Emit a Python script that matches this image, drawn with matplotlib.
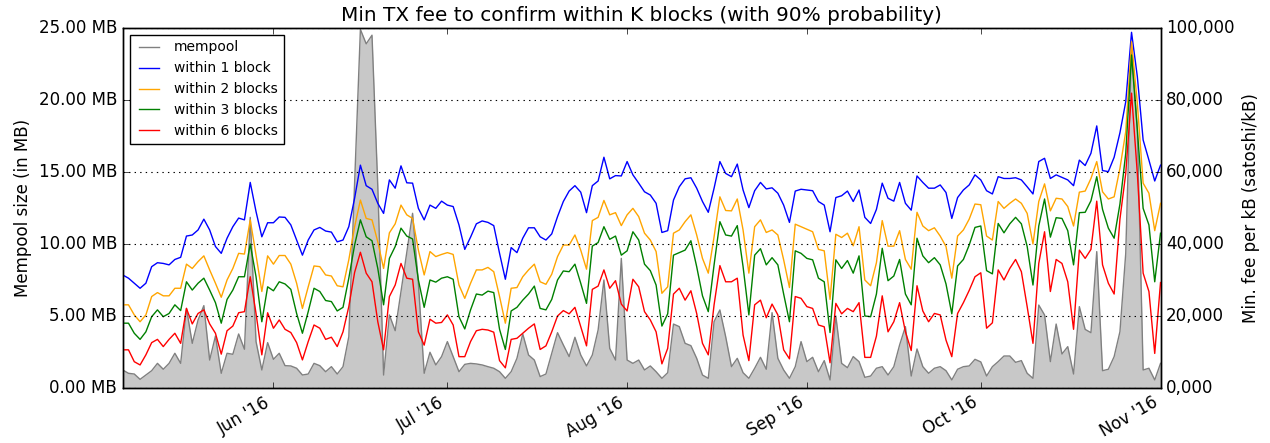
import matplotlib
matplotlib.use('Agg')
import matplotlib.pyplot as plt
import matplotlib.dates as mdates
from matplotlib.ticker import FuncFormatter, MultipleLocator
import pandas as pd

plt.style.use('classic')

start_date = '2016-05-06'
n_days = 180

# mempool size in MB
mempool_mb = [
    1.25, 1.02, 0.97, 0.60, 0.90, 1.20, 1.71, 1.30, 1.71, 2.41,
    1.71, 5.53, 3.10, 4.72, 5.72, 1.94, 3.61, 1.02, 2.41, 2.34,
    3.75, 2.69, 11.85, 3.22, 1.25, 3.15, 1.99, 2.41, 1.55, 1.53,
    1.37, 0.90, 0.97, 1.71, 1.55, 1.13, 1.48, 0.97, 1.48, 3.56,
    14.2, 24.9, 23.9, 24.5, 14.0, 0.90, 5.07, 3.98, 6.69, 9.42,
    12.13, 7.27, 1.02, 2.48, 1.60, 2.18, 3.22, 2.18, 1.13, 1.64,
    1.71, 1.67, 1.60, 1.48, 1.37, 1.13, 0.67, 1.13, 2.06, 3.75,
    2.29, 1.94, 0.79, 0.97, 2.41, 3.84, 2.99, 2.18, 3.52, 2.29,
    1.53, 2.29, 4.03, 7.50, 2.75, 1.94, 9.00, 1.94, 1.71, 1.94,
    1.25, 1.53, 1.13, 0.67, 1.06, 4.44, 4.26, 3.10, 2.94, 2.06,
    0.90, 0.67, 4.61, 5.42, 3.56, 1.48, 2.06, 1.06, 0.67, 1.37,
    2.13, 1.30, 5.23, 2.06, 1.25, 0.67, 1.48, 3.22, 1.83, 2.13,
    1.13, 1.90, 0.56, 5.00, 1.71, 1.41, 2.18, 1.83, 0.74, 0.83,
    1.37, 1.48, 0.90, 1.48, 2.99, 4.26, 0.83, 2.71, 1.48, 1.02,
    1.37, 1.48, 1.20, 0.56, 1.30, 1.48, 1.53, 1.99, 1.81, 0.83,
    1.48, 1.83, 2.22, 2.22, 1.78, 1.90, 1.02, 0.67, 5.76, 5.07,
    1.83, 4.44, 2.36, 2.87, 0.97, 5.65, 4.07, 3.84, 9.47, 1.20,
    1.30, 2.18, 3.91, 9.35, 23.7, 18.0, 1.25, 1.37, 0.56, 1.71,
]

# min fee (thousand satoshi per kB)
fee_1_block_k = [
    31.4, 30.5, 29.1, 27.7, 29.1, 33.7, 34.8, 34.6, 34.2, 35.7,
    36.3, 42.2, 42.5, 43.9, 46.9, 43.9, 39.3, 37.4, 41.6, 44.8,
    47.2, 46.7, 57.1, 49.0, 42.0, 45.9, 45.9, 47.5, 47.4, 45.3,
    41.1, 36.9, 41.1, 43.9, 44.6, 43.6, 43.3, 40.6, 41.1, 44.8,
    52.7, 61.9, 56.2, 55.2, 51.3, 48.5, 57.8, 55.5, 61.7, 57.0,
    56.9, 49.9, 46.7, 50.8, 49.9, 51.9, 50.8, 50.4, 45.3, 38.5,
    41.9, 45.6, 46.4, 46.0, 45.1, 37.4, 30.2, 39.0, 37.6, 41.6,
    44.5, 44.5, 42.0, 41.1, 42.8, 47.6, 51.8, 54.7, 56.2, 54.4,
    48.7, 56.2, 57.5, 64.1, 58.1, 59.0, 58.9, 62.9, 59.2, 56.9,
    54.5, 53.6, 51.3, 43.2, 43.7, 52.2, 55.9, 58.1, 58.4, 55.5,
    51.8, 48.8, 55.5, 62.9, 59.6, 58.7, 62.2, 55.0, 50.1, 54.8,
    57.1, 55.3, 55.6, 54.1, 50.8, 46.0, 54.7, 55.2, 55.0, 54.8,
    51.8, 50.8, 43.4, 52.9, 53.4, 54.7, 51.8, 55.0, 47.4, 45.7,
    49.6, 56.9, 52.7, 51.9, 57.1, 51.3, 49.4, 58.9, 57.1, 55.5,
    55.5, 56.4, 54.3, 47.1, 52.9, 55.0, 56.4, 59.2, 57.8, 54.8,
    53.9, 58.7, 58.2, 58.2, 58.4, 57.8, 55.9, 53.9, 62.9, 63.8,
    58.2, 59.2, 58.5, 57.8, 56.2, 63.3, 61.8, 65.2, 72.8, 60.4,
    60.1, 64.1, 70.9, 79.5, 98.8, 86.5, 68.9, 63.3, 57.5, 61.9,
]

fee_2_blocks_k = [
    23.1, 23.1, 20.3, 18.4, 20.3, 25.4, 26.5, 25.6, 25.6, 27.7,
    27.7, 34.4, 33.2, 35.1, 36.7, 32.8, 29.1, 25.2, 30.0, 33.2,
    37.4, 37.2, 46.7, 36.9, 26.8, 36.7, 34.4, 36.8, 36.8, 34.4,
    29.1, 22.1, 28.1, 33.9, 33.7, 31.4, 31.1, 28.4, 28.1, 35.6,
    44.8, 52.2, 47.1, 46.7, 40.6, 33.2, 43.1, 45.6, 50.8, 48.1,
    47.1, 38.3, 31.4, 37.9, 36.5, 37.1, 37.6, 37.1, 28.6, 24.9,
    29.1, 32.8, 32.8, 33.5, 32.3, 25.4, 18.0, 27.7, 27.9, 30.9,
    32.8, 34.4, 29.5, 28.8, 31.6, 36.5, 39.7, 39.7, 42.5, 38.3,
    33.0, 46.5, 47.4, 52.1, 48.1, 48.7, 45.1, 48.1, 49.9, 47.6,
    43.0, 41.1, 37.9, 26.3, 28.1, 43.0, 43.9, 46.2, 48.1, 42.5,
    36.0, 31.9, 42.0, 53.1, 49.3, 49.2, 52.5, 43.9, 31.9, 44.8,
    46.7, 43.2, 43.9, 42.5, 35.6, 27.9, 45.5, 44.8, 44.1, 43.4,
    38.5, 38.1, 24.6, 42.7, 41.8, 43.0, 39.5, 44.8, 30.0, 28.4,
    34.8, 46.5, 39.4, 39.4, 43.7, 35.7, 33.0, 48.8, 45.0, 43.7,
    44.5, 42.2, 39.3, 30.5, 42.2, 43.9, 46.9, 51.1, 50.9, 42.2,
    41.1, 51.8, 49.9, 51.3, 52.5, 51.3, 48.5, 40.0, 51.8, 56.7,
    49.2, 52.7, 52.5, 50.4, 45.0, 54.4, 54.7, 58.2, 62.9, 54.5,
    52.5, 53.1, 61.0, 71.2, 96.2, 79.1, 56.9, 54.1, 43.7, 51.3,
]

fee_3_blocks_k = [
    18.0, 18.0, 15.2, 13.5, 15.6, 19.8, 21.7, 19.8, 20.7, 23.1,
    21.5, 29.5, 27.2, 29.1, 30.5, 27.2, 23.7, 18.0, 24.6, 27.2,
    30.9, 30.9, 40.0, 30.9, 18.4, 28.1, 27.0, 29.5, 28.9, 27.4,
    20.7, 15.2, 21.2, 27.7, 26.8, 24.3, 24.0, 21.4, 22.4, 30.5,
    39.7, 46.7, 42.0, 40.9, 33.2, 23.1, 36.0, 39.3, 44.4, 42.2,
    41.4, 30.0, 22.4, 30.0, 29.4, 30.5, 30.9, 30.2, 19.8, 16.4,
    21.7, 26.1, 25.8, 26.9, 26.5, 16.3, 10.7, 21.4, 22.4, 24.4,
    26.1, 28.3, 22.1, 21.7, 24.6, 30.0, 32.5, 32.3, 34.4, 29.1,
    23.5, 39.4, 40.4, 44.8, 41.3, 42.2, 36.9, 38.1, 43.4, 41.1,
    34.4, 32.6, 28.6, 17.2, 20.6, 36.9, 37.6, 38.3, 40.9, 33.7,
    25.6, 21.2, 34.2, 46.2, 42.5, 42.2, 45.1, 33.7, 20.3, 36.9,
    38.7, 34.2, 36.2, 34.2, 26.1, 18.4, 38.1, 37.4, 36.0, 35.6,
    30.5, 29.5, 15.4, 35.6, 33.2, 35.4, 31.9, 36.7, 20.0, 19.8,
    26.1, 38.8, 29.8, 31.1, 35.7, 26.1, 23.1, 41.6, 36.7, 34.8,
    36.2, 34.2, 28.9, 20.6, 33.9, 35.7, 39.7, 44.6, 45.0, 32.6,
    31.7, 45.7, 43.1, 45.6, 47.4, 45.6, 39.3, 28.6, 45.0, 52.5,
    41.9, 47.3, 47.1, 43.7, 34.2, 48.7, 48.8, 52.0, 58.7, 49.6,
    44.4, 41.6, 51.1, 65.2, 92.5, 71.7, 49.9, 45.3, 29.5, 43.0,
]

fee_6_blocks_k = [
    10.6, 10.6, 7.3, 6.4, 9.2, 12.6, 13.5, 11.5, 13.5, 15.2,
    12.4, 22.1, 17.8, 20.7, 21.7, 17.8, 15.2, 9.4, 15.9, 17.2,
    20.9, 21.2, 30.9, 20.7, 9.2, 20.9, 16.6, 18.9, 16.3, 15.4,
    12.6, 7.8, 12.9, 17.5, 16.6, 13.5, 14.1, 11.5, 15.6, 22.6,
    32.1, 37.7, 31.9, 29.5, 18.4, 10.6, 25.4, 28.6, 34.6, 30.5,
    30.2, 15.6, 11.9, 19.1, 18.0, 18.2, 20.3, 17.5, 8.7, 8.7,
    12.9, 15.9, 16.3, 16.1, 15.5, 7.6, 5.6, 13.5, 13.8, 15.2,
    16.6, 17.8, 10.7, 11.7, 15.6, 20.0, 21.5, 20.6, 22.4, 17.0,
    11.7, 27.4, 28.3, 32.8, 27.7, 29.8, 23.3, 21.4, 30.2, 28.1,
    21.2, 18.9, 15.6, 6.7, 11.0, 26.1, 27.7, 24.4, 27.0, 20.7,
    12.4, 9.2, 23.1, 34.0, 29.5, 29.5, 30.5, 14.7, 7.6, 23.1,
    24.4, 19.5, 23.3, 20.3, 10.6, 8.1, 25.4, 24.9, 22.6, 22.1,
    17.5, 17.0, 7.0, 23.5, 20.6, 22.1, 21.2, 23.7, 8.5, 8.5,
    14.4, 25.6, 15.6, 18.4, 23.7, 15.6, 10.4, 28.4, 21.4, 18.4,
    20.7, 20.3, 13.3, 8.7, 20.7, 23.7, 27.1, 30.9, 32.0, 16.6,
    18.1, 32.8, 30.0, 33.2, 35.7, 32.3, 22.6, 12.4, 34.6, 43.4,
    26.8, 35.7, 34.6, 29.5, 16.3, 38.3, 36.0, 38.5, 51.9, 34.2,
    29.1, 26.1, 46.9, 59.6, 81.9, 59.6, 31.9, 26.8, 9.6, 29.3,
]

series_labels = ['mempool', 'within 1 block', 'within 2 blocks',
                 'within 3 blocks', 'within 6 blocks']
title = 'Min TX fee to confirm within K blocks (with 90% probability)'

dates = pd.date_range(start_date, periods=n_days, freq='D')

fig = plt.figure(figsize=(12.7, 4.43), dpi=100, facecolor='white')
ax = fig.add_axes([0.0966, 0.1242, 0.8172, 0.8126])
ax2 = ax.twinx()

ax.fill_between(dates, 0, mempool_mb, color='#c8c8c8', linewidth=0)
h0, = ax.plot(dates, mempool_mb, color='#808080', lw=1.0, label=series_labels[0])

fees = [fee_1_block_k, fee_2_blocks_k, fee_3_blocks_k, fee_6_blocks_k]
colors = ['#0000ff', '#ffa500', '#008000', '#ff0000']
handles = [h0]
for vals, c, lab in zip(fees, colors, series_labels[1:]):
    h, = ax2.plot(dates, [v * 1000 for v in vals], color=c, lw=1.0, label=lab)
    handles.append(h)

ax.set_xlim(dates[0], dates[-1])
ax.set_ylim(0, 25)
ax2.set_ylim(0, 100000)
ax.yaxis.set_major_locator(MultipleLocator(5))
ax2.yaxis.set_major_locator(MultipleLocator(20000))
ax.yaxis.set_major_formatter(FuncFormatter(lambda v, p: '%.2f MB' % v))
ax2.yaxis.set_major_formatter(FuncFormatter(lambda v, p: format(int(round(v)), '05,d')))

ax.xaxis.set_major_locator(mdates.MonthLocator())
ax.xaxis.set_major_formatter(mdates.DateFormatter("%b '%y"))
for lbl in ax.get_xticklabels():
    lbl.set_rotation(30)
    lbl.set_ha('right')

ax2.yaxis.grid(True, color='k', linestyle=':', linewidth=0.8)

ax.set_title(title, fontsize=14.4)
ax.set_ylabel('Mempool size (in MB)', fontsize=12)
ax2.set_ylabel('Min. fee per kB (satoshi/kB)', fontsize=12)

ax2.legend(handles, series_labels, loc='upper left', fontsize=10)

fig.savefig('out.png', dpi=100, facecolor='white')
